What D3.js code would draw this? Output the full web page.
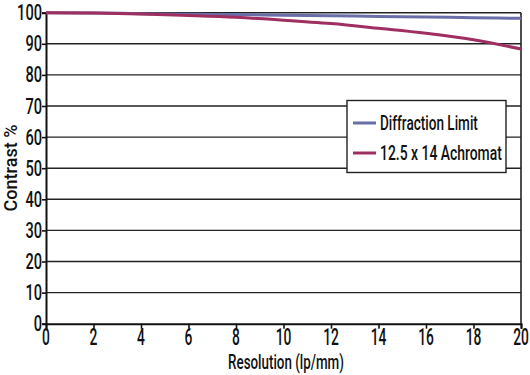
<!DOCTYPE html>
<html>
<head>
<meta charset="utf-8">
<script src="https://cdn.jsdelivr.net/npm/d3@7"></script>
<style>
  body { margin: 0; background: #fff; }
  text { font-family: Roboto, "DejaVu Sans Condensed", sans-serif; font-weight: 500; fill: #111; }
</style>
</head>
<body>
<script>
// resolution in lp/mm
var resolution = [0, 2, 4, 6, 8, 10, 12, 14, 16, 18, 20];
// contrast %
var diffractionLimit = [100, 99.9, 99.7, 99.5, 99.4, 99.2, 99.0, 98.8, 98.6, 98.4, 98.2];
var achromat = [100, 99.9, 99.6, 99.1, 98.5, 97.6, 96.5, 95.0, 93.4, 91.3, 88.3];
var xTicks = [0, 2, 4, 6, 8, 10, 12, 14, 16, 18, 20];
var yTicks = [0, 10, 20, 30, 40, 50, 60, 70, 80, 90, 100];
var seriesNames = ["Diffraction Limit", "12.5 x 14 Achromat"];
var seriesColors = ["#6a6ea8", "#9e2f60"];

var w = 530, h = 375;
var margin = {top: 12.7, right: 9, bottom: 51.3, left: 46};
var squeeze = 0.6;   // the original font is a narrow one

var svg = d3.select("body").append("svg")
    .attr("width", w)
    .attr("height", h);

var x = d3.scaleLinear().domain([0, 20]).range([margin.left, w - margin.right]);
var y = d3.scaleLinear().domain([0, 100]).range([h - margin.bottom, margin.top]);

// narrow text: place at (px,py) and squeeze horizontally, optionally to a given width
function narrowText(parent, px, py, str, size, anchor, width, rotate) {
  var t = parent.append("text")
     .attr("font-size", size + "px")
     .attr("text-anchor", anchor)
     .text(str);
  var sx = squeeze;
  if (width) sx = width / t.node().getComputedTextLength();
  t.attr("transform", "translate(" + px + "," + py + ")" + (rotate ? " rotate(-90)" : "") + " scale(" + sx + ",1)");
  return t;
}

// gridlines
svg.selectAll("line.grid")
   .data(yTicks.filter(function(d) { return d > 0; }))
   .enter()
   .append("line")
   .attr("class", "grid")
   .attr("x1", x(0))
   .attr("x2", x(20))
   .attr("y1", function(d) { return y(d); })
   .attr("y2", function(d) { return y(d); })
   .attr("stroke", "#222")
   .attr("stroke-width", 1.4);

// right border
svg.append("line")
   .attr("x1", x(20)).attr("x2", x(20))
   .attr("y1", y(100)).attr("y2", y(0))
   .attr("stroke", "#222").attr("stroke-width", 1.6);

// axes (labels drawn separately)
var xAxis = d3.axisBottom(x).tickValues(xTicks).tickSize(5).tickFormat("");
var yAxis = d3.axisLeft(y).tickValues(yTicks).tickSize(4).tickFormat("");

var gx = svg.append("g")
    .attr("transform", "translate(0," + y(0) + ")")
    .call(xAxis);
var gy = svg.append("g")
    .attr("transform", "translate(" + x(0) + ",0)")
    .call(yAxis);

[gx, gy].forEach(function(g) {
  g.select(".domain").attr("stroke", "#111").attr("stroke-width", 2);
  g.selectAll(".tick line").attr("stroke", "#111").attr("stroke-width", 1.6);
  g.selectAll(".tick text").remove();
});

xTicks.forEach(function(d) {
  narrowText(svg, x(d), y(0) + 21.5, String(d), 23, "middle");
});
yTicks.forEach(function(d) {
  narrowText(svg, x(0) - 4, y(d) + 7.5, String(d), 22, "end", String(d).length * 8.3);
});

// axis titles
narrowText(svg, 286, 369, "Resolution (lp/mm)", 20, "middle", 116);
narrowText(svg, 17, 168, "Contrast %", 19, "middle", 87, true);

// curves
var line = d3.line()
    .x(function(d, i) { return x(resolution[i]); })
    .y(function(d) { return y(d); })
    .curve(d3.curveMonotoneX);

[diffractionLimit, achromat].forEach(function(series, k) {
  svg.append("path")
     .datum(series)
     .attr("d", line)
     .attr("fill", "none")
     .attr("stroke", seriesColors[k])
     .attr("stroke-width", 3);
});

// legend
var legend = svg.append("g");
legend.append("rect")
   .attr("x", 347).attr("y", 100.5)
   .attr("width", 159).attr("height", 72)
   .attr("fill", "#fff")
   .attr("stroke", "#222")
   .attr("stroke-width", 1.4);

var legendWidths = [98, 122];
seriesNames.forEach(function(d, i) {
  var cy = 123 + i * 30;
  legend.append("line")
     .attr("x1", 353).attr("x2", 376)
     .attr("y1", cy).attr("y2", cy)
     .attr("stroke", seriesColors[i])
     .attr("stroke-width", 3);
  narrowText(legend, 380, cy + 7, d, 21, "start", legendWidths[i]);
});
</script>
</body>
</html>
